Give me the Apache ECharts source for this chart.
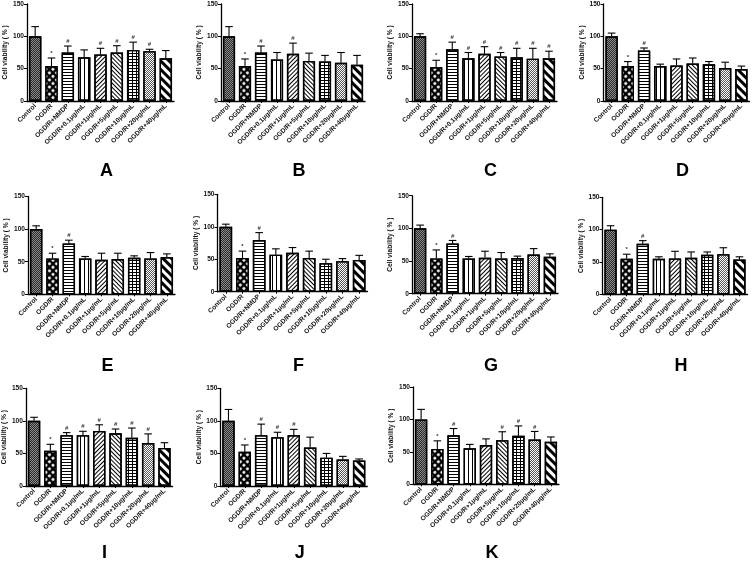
<!DOCTYPE html>
<html><head><meta charset="utf-8">
<script src="https://cdn.jsdelivr.net/npm/echarts@6/dist/echarts.min.js"></script>
<style>html,body{margin:0;padding:0;background:#fff}#c{width:753px;height:562px}</style>
</head><body><div id="c"></div>
<script>
// ---------- data ----------
const categories = ['Control','OGD/R','OGD/R+NMDP','OGD/R+0.1μg/mL','OGD/R+1μg/mL','OGD/R+5μg/mL','OGD/R+10μg/mL','OGD/R+20μg/mL','OGD/R+40μg/mL'];
const yTicks = [0, 50, 100, 150];
const panelLetters = ['A','B','C','D','E','F','G','H','I','J','K'];

const meanA = [100,54,75,67.5,72,75,79,77,66];
const sdA   = [15,12.5,10,11.5,9.5,10.5,12,3,12];
const sigA  = ['','*','#','','#','#','#','#',''];

const meanB = [100,54,75,64,73,62,61,59,56];
const sdB   = [15,11,10,11,16.5,12,9.5,16,14.5];
const sigB  = ['','*','#','','#','','','',''];

const meanC = [100,52,80,66,73,69,67.5,65.5,66];
const sdC   = [4,11,11,9,11,6,14,16,11];
const sigC  = ['','*','#','#','#','#','#','#','#'];

const meanD = [100,54,78,54,55,58,57,51,49.5];
const sdD   = [5,7,4,3,10,8.5,4,9,4.5];
const sigD  = ['','*','#','','','','','',''];

const meanE = [100,55,78,55,53,54,56,55,57];
const sdE   = [5,8,5,3,10,9,3,9,5];
const sigE  = ['','*','#','','','','','',''];

const meanF = [100,52,79.5,57,60,52,44,47,49];
const sdF   = [4,10.5,11.5,9,8,10.5,6,4,7];
const sigF  = ['','*','#','','','','','',''];

const meanG = [100,54,77,54,55,54,54.5,60,56.5];
const sdG   = [5,13,4.5,3,10,9,3,9,4.5];
const sigG  = ['','*','#','','','','','',''];

const meanH = [100,55,78,55,55.5,56.5,61,62,54];
const sdH   = [6,7,5,3,11,9,4.5,10,4];
const sigH  = ['','*','#','','','','','',''];

const meanI = [100,54,78,78,84.5,81,74,66,58.5];
const sdI   = [5.5,10,4,6,9.5,6.5,15,14,8];
const sigI  = ['','*','#','#','#','#','#','#',''];

const meanJ = [100,52.5,78,75,78,59,43.5,40.5,39];
const sdJ   = [17.5,10.5,17,7.5,9,16,6.5,5,2.5];
const sigJ  = ['','*','#','#','#','','','',''];

const meanK = [100,54.5,75.5,55.5,60.5,68,75,69,65.5];
const sdK   = [15.5,12.5,10.5,6,9.5,13,15,12.5,7.5];
const sigK  = ['','*','#','','','#','#','#',''];

const means = [meanA,meanB,meanC,meanD,meanE,meanF,meanG,meanH,meanI,meanJ,meanK];
const sds   = [sdA,sdB,sdC,sdD,sdE,sdF,sdG,sdH,sdI,sdJ,sdK];
const sigs  = [sigA,sigB,sigC,sigD,sigE,sigF,sigG,sigH,sigI,sigJ,sigK];

// ---------- layout (pixels) ----------
const layout = [
  {l:27,  w:147, t:4,   b:101},
  {l:221, w:144, t:4,   b:101},
  {l:412, w:145, t:4,   b:101},
  {l:603.5, w:146, t:4, b:101},
  {l:28,  w:147, t:196.5, b:294.3},
  {l:217.5, w:150, t:194.3, b:291.7},
  {l:412, w:146, t:195.7, b:293.7},
  {l:602.5, w:145, t:197.3, b:294.3},
  {l:24.6, w:148, t:388.3, b:486},
  {l:220.3, w:147, t:388.3, b:486},
  {l:413, w:146, t:387, b:484.3}
];
const letterY = [171, 366, 553];

// ---------- bar styles ----------
const baseColors = ['#8a8a8a','#000','#fff','#fff','#fff','#fff','#fff','#fff','#fff'];
const decals = [
  {symbol:'rect', symbolSize:1, color:'#2b2b2b', dashArrayX:[[1,1],[0,1,1,0]], dashArrayY:[1,0]},
  {symbol:'circle', symbolSize:1, color:'#fff', dashArrayX:[2.6,1.6], dashArrayY:[2.6,1.6], rotation:Math.PI/4},
  {symbol:'rect', symbolSize:1, color:'#000', dashArrayX:[1,0], dashArrayY:[1,2]},
  {symbol:'rect', symbolSize:1, color:'#000', dashArrayX:[1,2.2], dashArrayY:[1,0]},
  {symbol:'rect', symbolSize:1, color:'#000', dashArrayX:[1,0], dashArrayY:[0.9,2], rotation:-Math.PI/4},
  {symbol:'rect', symbolSize:1, color:'#000', dashArrayX:[1,0], dashArrayY:[0.9,2], rotation:Math.PI/4},
  {symbol:'rect', symbolSize:1, color:'#000', dashArrayX:[[1,0],[1,2.2],[1,2.2]], dashArrayY:[1,0]},
  {symbol:'rect', symbolSize:1, color:'#555', dashArrayX:[[1,1],[0,1,1,0]], dashArrayY:[1,0]},
  {symbol:'rect', symbolSize:1, color:'#000', dashArrayX:[1,0], dashArrayY:[2.4,2.4], rotation:Math.PI/4}
];

const FONT = 'Liberation Sans, Arial, sans-serif';
const grids = [], xAxes = [], yAxes = [], series = [], graphics = [];

layout.forEach((p, i) => {
  grids.push({left:p.l, top:p.t, width:p.w, height:p.b - p.t, containLabel:false});
  xAxes.push({
    type:'category', gridIndex:i, data:categories,
    axisLine:{lineStyle:{color:'#000', width:1.3}},
    axisTick:{show:true, alignWithLabel:true, length:2, lineStyle:{color:'#000'}},
    axisLabel:{rotate:45, interval:0, fontSize:6.6, fontWeight:'bold', color:'#111', margin:4, fontFamily:FONT}
  });
  yAxes.push({
    type:'value', gridIndex:i, min:yTicks[0], max:yTicks[yTicks.length-1], interval:50,
    axisLine:{show:true, lineStyle:{color:'#000', width:1.3}},
    axisTick:{show:true, length:3, lineStyle:{color:'#000'}},
    splitLine:{show:false},
    axisLabel:{fontSize:6.6, fontWeight:'bold', color:'#111', margin:3, fontFamily:FONT},
    name:'Cell viability ( % )', nameLocation:'middle', nameGap:17,
    nameTextStyle:{fontSize:6.6, fontWeight:'bold', color:'#111', fontFamily:FONT}
  });
  series.push({
    type:'bar', xAxisIndex:i, yAxisIndex:i, barCategoryGap:'24%',
    data: means[i].map((v, j) => ({value:v, itemStyle:{color:baseColors[j], decal:decals[j], borderColor:'#000', borderWidth:1.4}})),
    silent:true, animation:false
  });
  const sg = sigs[i];
  series.push({
    type:'custom', xAxisIndex:i, yAxisIndex:i, z:5, silent:true, animation:false,
    data: means[i].map((v, j) => [j, v, v + sds[i][j]]),
    renderItem: function(params, api){
      const x = api.value(0), m = api.value(1), t = api.value(2);
      const p0 = api.coord([x, m]), p1 = api.coord([x, t]);
      const hw = 3.8;
      const ch = [
        {type:'line', shape:{x1:p0[0], y1:p0[1], x2:p1[0], y2:p1[1]}, style:{stroke:'#000', lineWidth:1.1}},
        {type:'line', shape:{x1:p1[0]-hw, y1:p1[1], x2:p1[0]+hw, y2:p1[1]}, style:{stroke:'#000', lineWidth:1.1}}
      ];
      const s = sg[params.dataIndex];
      if (s) ch.push({type:'text', x:p1[0], y:p1[1]-1.5, style:{text:s, fill:'#333', font:'bold 6px ' + FONT, textAlign:'center', textVerticalAlign:'bottom'}});
      return {type:'group', children:ch};
    }
  });
  const row = Math.floor(i / 4);
  graphics.push({type:'text', x:p.l + p.w/2 + 6, y:letterY[row], silent:true,
    style:{text:panelLetters[i], fill:'#000', font:'bold 18px ' + FONT, textAlign:'center', textVerticalAlign:'middle'}});
});

const chart = echarts.init(document.getElementById('c'), null, {renderer:'canvas'});
chart.setOption({
  animation:false,
  backgroundColor:'#fff',
  grid:grids, xAxis:xAxes, yAxis:yAxes, series:series, graphic:graphics
});
</script></body></html>
